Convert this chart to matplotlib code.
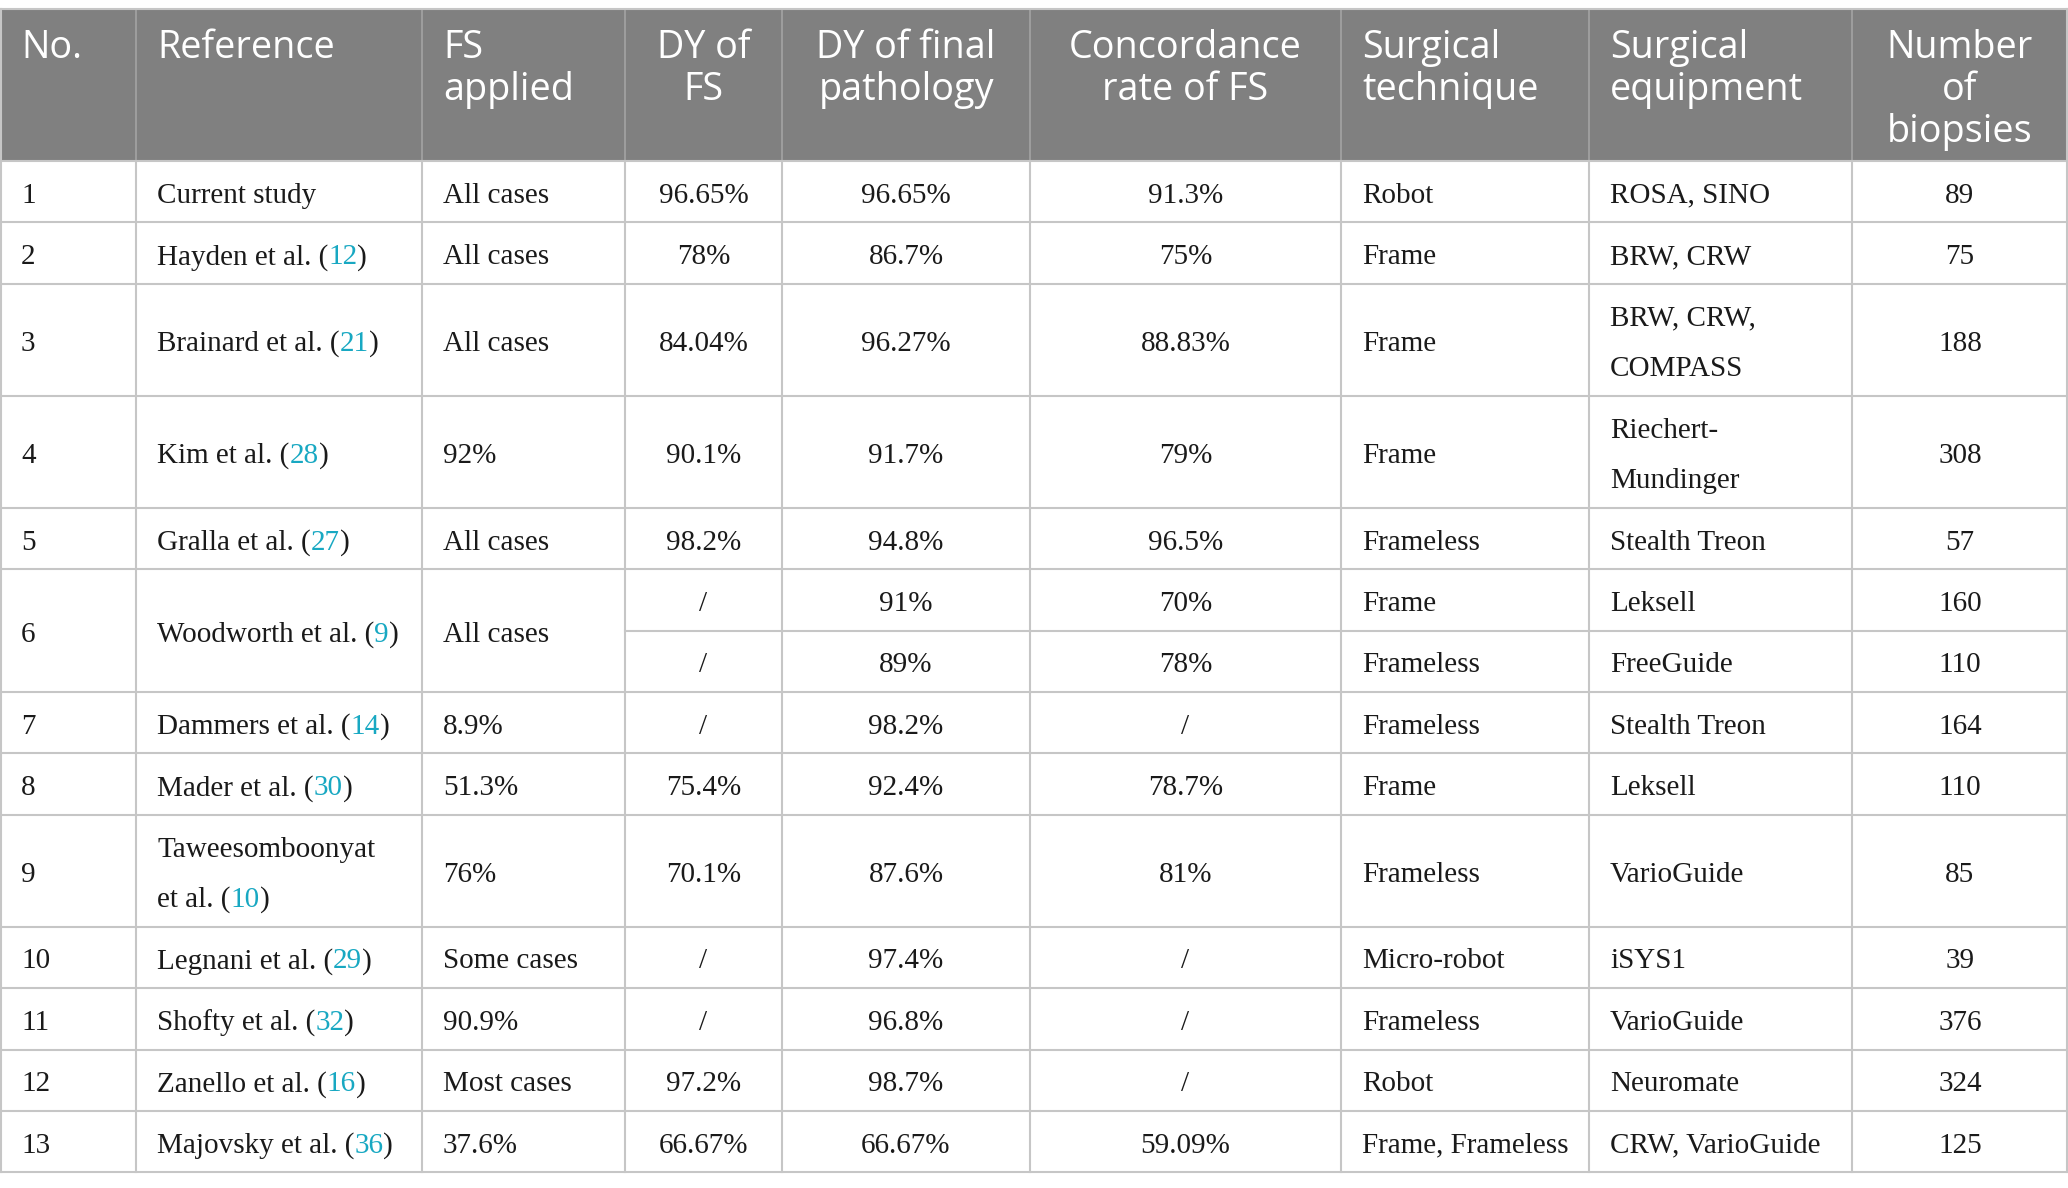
import matplotlib
matplotlib.use("Agg")
import matplotlib.pyplot as plt
from matplotlib.patches import Rectangle

# ---------------- data ----------------
headers = ["No.", "Reference", "FS\napplied", "DY of\nFS", "DY of final\npathology",
           "Concordance\nrate of FS", "Surgical\ntechnique", "Surgical\nequipment",
           "Number\nof\nbiopsies"]

study_no = ["1", "2", "3", "4", "5", "6", "7", "8", "9", "10", "11", "12", "13"]
authors = ["Current study", "Hayden et al.", "Brainard et al.", "Kim et al.", "Gralla et al.",
           "Woodworth et al.", "Dammers et al.", "Mader et al.", "Taweesomboonyat\net al.",
           "Legnani et al.", "Shofty et al.", "Zanello et al.", "Majovsky et al."]
citations = [None, "12", "21", "28", "27", "9", "14", "30", "10", "29", "32", "16", "36"]
fs_applied = ["All cases", "All cases", "All cases", "92%", "All cases", "All cases", "8.9%",
              "51.3%", "76%", "Some cases", "90.9%", "Most cases", "37.6%"]
subrows_per_study = [1, 1, 1, 1, 1, 2, 1, 1, 1, 1, 1, 1, 1]

# per sub-row (Woodworth et al. has two sub-rows)
dy_fs = ["96.65%", "78%", "84.04%", "90.1%", "98.2%", "/", "/", "/", "75.4%", "70.1%",
         "/", "/", "97.2%", "66.67%"]
dy_final = ["96.65%", "86.7%", "96.27%", "91.7%", "94.8%", "91%", "89%", "98.2%", "92.4%",
            "87.6%", "97.4%", "96.8%", "98.7%", "66.67%"]
concordance = ["91.3%", "75%", "88.83%", "79%", "96.5%", "70%", "78%", "/", "78.7%", "81%",
               "/", "/", "/", "59.09%"]
technique = ["Robot", "Frame", "Frame", "Frame", "Frameless", "Frame", "Frameless", "Frameless",
             "Frame", "Frameless", "Micro-robot", "Frameless", "Robot", "Frame, Frameless"]
equipment = ["ROSA, SINO", "BRW, CRW", "BRW, CRW,\nCOMPASS", "Riechert-\nMundinger",
             "Stealth Treon", "Leksell", "FreeGuide", "Stealth Treon", "Leksell", "VarioGuide",
             "iSYS1", "VarioGuide", "Neuromate", "CRW, VarioGuide"]
biopsies = [89, 75, 188, 308, 57, 160, 110, 164, 110, 85, 39, 376, 324, 125]

# ---------------- layout / style ----------------
W, H = 2068, 1188
col_edges = [0, 136, 422, 625, 782, 1030, 1341, 1589, 1852, 2068]
col_align = ["left", "left", "left", "center", "center", "center", "left", "left", "center"]
pad = 21
table_top = 9
header_h = 152
single_h = 61.4
double_h = 112
line_step_body = 50
line_step_head = 42
head_first = 39
body_dy = 4

header_bg = "#808080"
header_sep = "#a3a3a3"
grid_col = "#c6c6c6"
text_col = "#1a1a1a"
cite_col = "#18a8c2"

head_font = dict(family="Open Sans", size=27.2, color="white")
body_font = dict(family="Liberation Serif", size=21.0, color=text_col)

fig = plt.figure(figsize=(W / 100, H / 100), dpi=100)
ax = fig.add_axes([0, 0, 1, 1])
ax.set_xlim(0, W)
ax.set_ylim(H, 0)
ax.axis("off")
renderer = fig.canvas.get_renderer()


def nlines(s):
    return str(s).count("\n") + 1


def col_x(c):
    a = col_align[c]
    if a == "left":
        return col_edges[c] + pad
    return (col_edges[c] + col_edges[c + 1]) / 2


def draw_parts(x, y, parts, ha, font):
    texts = []
    widths = []
    for s, colr in parts:
        kw = dict(font)
        kw["color"] = colr
        t = ax.text(0, y, s, ha="left", va="center", **kw)
        widths.append(t.get_window_extent(renderer).width)
        texts.append(t)
    total = sum(widths)
    x0 = x - total / 2 if ha == "center" else x
    for t, w in zip(texts, widths):
        t.set_x(x0)
        x0 += w


def draw_cell(c, ytop, ybot, lines_parts, font, step):
    n = len(lines_parts)
    yc = (ytop + ybot) / 2 + body_dy
    for i, parts in enumerate(lines_parts):
        y = yc + (i - (n - 1) / 2) * step
        draw_parts(col_x(c), y, parts, col_align[c], font)


# ---------------- header ----------------
ax.add_patch(Rectangle((0, table_top), W, header_h, facecolor=header_bg, edgecolor="none"))
for c, h in enumerate(headers):
    for i, line in enumerate(h.split("\n")):
        y = table_top + head_first + i * line_step_head
        ax.text(col_x(c), y, line, ha=col_align[c], va="center", **head_font)
for xe in col_edges[1:-1]:
    ax.plot([xe, xe], [table_top, table_top + header_h], color=header_sep, lw=1.2)
ax.plot([0, W], [table_top, table_top], color=grid_col, lw=1.5)

# ---------------- body ----------------
sub_cols = [dy_fs, dy_final, concordance, technique, equipment, biopsies]
sub_lines = [max(nlines(col[k]) for col in sub_cols) for k in range(len(dy_fs))]
k = 0
for s, nsub in enumerate(subrows_per_study):
    if nsub == 1:
        sub_lines[k] = max(sub_lines[k], nlines(authors[s]), nlines(fs_applied[s]))
    k += nsub
sub_heights = [single_h if m == 1 else double_h for m in sub_lines]

sub_tops = []
y = table_top + header_h
for h in sub_heights:
    sub_tops.append(y)
    y += h
table_bottom = y

k = 0
study_spans = []
for s, nsub in enumerate(subrows_per_study):
    ytop = sub_tops[k]
    ybot = sub_tops[k + nsub - 1] + sub_heights[k + nsub - 1]
    study_spans.append((ytop, ybot, k, nsub))
    k += nsub

for s, (ytop, ybot, k0, nsub) in enumerate(study_spans):
    draw_cell(0, ytop, ybot, [[(study_no[s], text_col)]], body_font, line_step_body)
    alines = authors[s].split("\n")
    lp = [[(ln, text_col)] for ln in alines]
    if citations[s] is not None:
        lp[-1] = [(alines[-1] + " (", text_col), (citations[s], cite_col), (")", text_col)]
    draw_cell(1, ytop, ybot, lp, body_font, line_step_body)
    fl = fs_applied[s].split("\n")
    draw_cell(2, ytop, ybot, [[(ln, text_col)] for ln in fl], body_font, line_step_body)

for kk in range(len(dy_fs)):
    ytop = sub_tops[kk]
    ybot = ytop + sub_heights[kk]
    for j, col in enumerate(sub_cols):
        ls = str(col[kk]).split("\n")
        draw_cell(3 + j, ytop, ybot, [[(ln, text_col)] for ln in ls], body_font, line_step_body)

# grid lines
lw = 1.5
for (ytop, ybot, k0, nsub) in study_spans:
    ax.plot([0, W], [ybot, ybot], color=grid_col, lw=lw)
    for j in range(1, nsub):
        yy = sub_tops[k0 + j]
        ax.plot([col_edges[3], W], [yy, yy], color=grid_col, lw=lw)
ax.plot([0, W], [table_top + header_h, table_top + header_h], color=grid_col, lw=lw)
for xe in col_edges[1:-1]:
    ax.plot([xe, xe], [table_top + header_h, table_bottom], color=grid_col, lw=lw)
ax.plot([1, 1], [table_top, table_bottom], color=grid_col, lw=lw)
ax.plot([W - 1, W - 1], [table_top, table_bottom], color=grid_col, lw=lw)

fig.savefig("out.png", dpi=100, facecolor="white")
